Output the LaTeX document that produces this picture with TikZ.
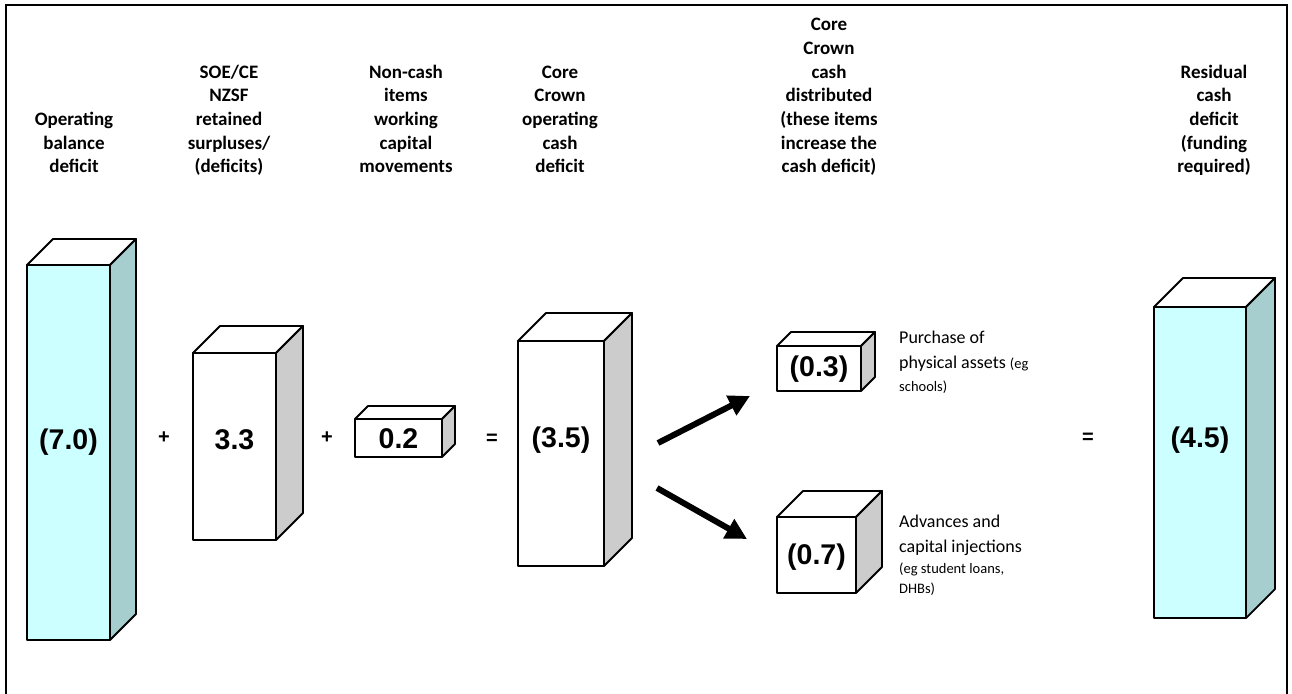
\documentclass[tikz,border=0pt]{standalone}
\usepackage{fontspec}
\usepackage{tikz}
\usetikzlibrary{arrows.meta}
\setmainfont{Carlito}
\newfontfamily\arialFont{Liberation Sans}
\definecolor{cyanFront}{HTML}{CCFFFF}
\definecolor{cyanSide}{HTML}{A6CECE}
\definecolor{greySide}{HTML}{CCCCCC}
\newcommand{\headFont}[0]{\bfseries\fontsize{19}{23.7}\selectfont}
\newcommand{\noteFont}[0]{\fontsize{18}{25}\selectfont}
\newcommand{\smallNote}[0]{\fontsize{14.5}{20}\selectfont}
\newcommand{\cuboid}[9]{%
  \node[#7 front, minimum width=#4pt, minimum height=#5pt] (#1) at (#2,#3) {};
  \draw[#7 top] (#1.north west) -- ++(#6,-#6) -- ([shift={(#6,-#6)}]#1.north east) -- (#1.north east) -- cycle;
  \draw[#7 side] (#1.north east) -- ([shift={(#6,-#6)}]#1.north east) -- ([shift={(#6,-#6)}]#1.south east) -- (#1.south east) -- cycle;
  \node[value] (#1-value) at (#1.center |- 0,#9) {#8};
}

\begin{document}
\begin{tikzpicture}[x=1pt, y=-1pt]
  \tikzset{
    face/.style={draw, line width=1.8pt, line join=round},
    cyan front/.style={face, fill=cyanFront, anchor=north west, inner sep=0pt, outer sep=0pt},
    cyan top/.style={face, fill=white},
    cyan side/.style={face, fill=cyanSide},
    grey front/.style={face, fill=white, anchor=north west, inner sep=0pt, outer sep=0pt},
    grey top/.style={face, fill=white},
    grey side/.style={face, fill=greySide},
    value/.style={font=\arialFont\bfseries\fontsize{28.5}{31}\selectfont, inner sep=0pt},
    sign/.style={font=\arialFont\bfseries\fontsize{20}{22}\selectfont, inner sep=0pt},
    head/.style={font=\headFont, align=center, anchor=south, inner sep=0pt, text depth=5pt},
    note/.style={font=\noteFont, align=left, anchor=north west, inner sep=0pt},
    flow/.style={line width=6pt, -{Triangle[length=21pt, width=21pt]}}
  }
  \useasboundingbox (0,0) rectangle (1292,693);
  \draw[line width=2.2pt] (6,720) -- (6,5) -- (1287,5) -- (1287,720);

  \node[head] (head-1) at (74,178) {Operating\\balance\\deficit};
  \node[head] (head-2) at (229,178) {SOE/CE\\NZSF\\retained\\surpluses/\\(deficits)};
  \node[head] (head-3) at (406,178) {Non-cash\\items\\working\\capital\\movements};
  \node[head] (head-4) at (560,178) {Core\\Crown\\operating\\cash\\deficit};
  \node[head] (head-5) at (829,178) {Core\\Crown\\cash\\distributed\\(these items\\increase the\\cash deficit)};
  \node[head] (head-6) at (1214,178) {Residual\\cash\\deficit\\(funding\\required)};

  \cuboid{box-1}{27}{265}{83}{375}{26}{cyan}{(7.0)}{442}
  \cuboid{box-2}{193}{353}{83}{187}{27}{grey}{3.3}{440}
  \cuboid{box-3}{355}{419}{87}{38}{13}{grey}{0.2}{439}
  \cuboid{box-4}{518}{341}{86}{225}{28}{grey}{(3.5)}{440}
  \cuboid{box-5}{777}{346}{84}{45}{14}{grey}{(0.3)}{369}
  \cuboid{box-6}{777}{517}{79}{76}{26}{grey}{(0.7)}{557}
  \cuboid{box-7}{1154}{307}{92}{311}{29}{cyan}{(4.5)}{440}

  \node[sign] (plus-1) at (164,438) {+};
  \node[sign] (plus-2) at (327,438) {+};
  \node[sign] (equals-1) at (492,439) {=};
  \node[sign] (equals-2) at (1088,438) {=};

  \node[note] (note-5) at (899,331) {Purchase of\\physical assets {\smallNote(eg}\\[-2pt]{\smallNote schools)}};
  \node[note] (note-6) at (899,515) {Advances and\\capital injections\\[-4pt]{\smallNote(eg student loans,}\\[-5pt]{\smallNote DHBs)}};

  \coordinate (split-up) at (658,443);
  \coordinate (split-down) at (657,488);
  \coordinate (to-assets) at (750,396);
  \coordinate (to-advances) at (747,539);
  \draw[flow] (split-up) -- (to-assets);
  \draw[flow] (split-down) -- (to-advances);
\end{tikzpicture}
\end{document}
